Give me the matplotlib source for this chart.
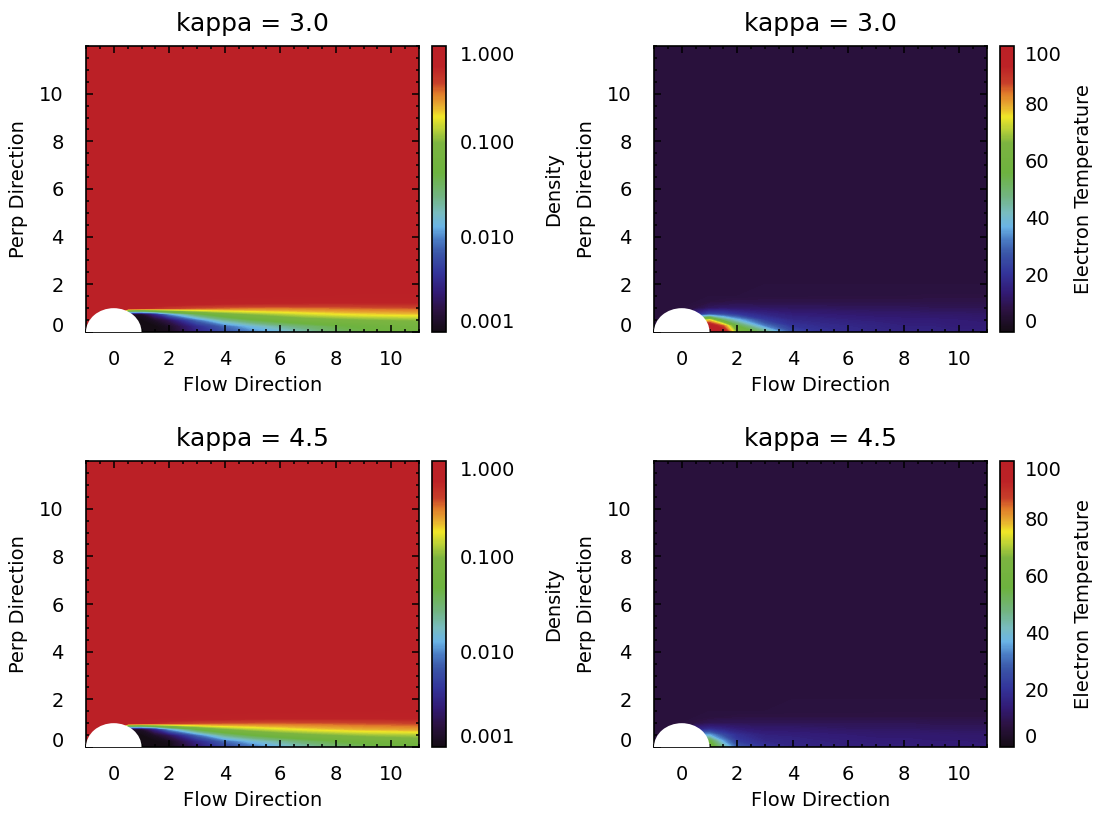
import numpy as np
import matplotlib
matplotlib.use('Agg')
import matplotlib.pyplot as plt
from matplotlib.colors import LinearSegmentedColormap, LogNorm, Normalize
from matplotlib.patches import Circle
from matplotlib.ticker import MultipleLocator, FixedLocator
import matplotlib.cm as cm

plt.rcParams['font.family'] = 'DejaVu Sans'
plt.rcParams['font.size'] = 14

# nodes of the values (wake region behind the body)
x_nodes = [0.5, 1, 1.5, 2, 3, 4, 5, 6, 7, 8, 9, 10, 11]
y_nodes = [0, 0.25, 0.5, 0.75, 1.0, 1.25, 1.5]

kappas = ['3.0', '4.5']

# log10(density); background (undisturbed flow) is 0
dens_bg = 0.0
dens_k30 = [
    [-3.0, -3.0, -3.0, -2.95, -2.55, -2.25, -2.05, -1.9, -1.7, -1.5, -1.4, -1.3, -1.25],
    [-3.0, -3.0, -3.0, -2.9, -2.45, -2.1, -1.85, -1.65, -1.5, -1.38, -1.3, -1.22, -1.18],
    [-3.0, -3.0, -2.9, -2.7, -2.1, -1.65, -1.4, -1.25, -1.15, -1.1, -1.05, -1.02, -1.0],
    [-2.9, -2.9, -2.5, -2.0, -1.45, -1.15, -1.0, -0.9, -0.82, -0.76, -0.72, -0.7, -0.68],
    [-0.1, -0.2, -0.3, -0.38, -0.45, -0.48, -0.5, -0.5, -0.49, -0.48, -0.46, -0.45, -0.44],
    [0.0, 0.0, -0.02, -0.05, -0.1, -0.14, -0.17, -0.19, -0.2, -0.21, -0.21, -0.21, -0.21],
    [0.0, 0.0, 0.0, 0.0, -0.01, -0.02, -0.03, -0.05, -0.06, -0.07, -0.08, -0.08, -0.08],
]
dens_k45 = [
    [-3.0, -3.0, -3.0, -3.0, -2.65, -2.3, -2.1, -1.9, -1.72, -1.55, -1.45, -1.35, -1.3],
    [-3.0, -3.0, -3.0, -2.95, -2.5, -2.1, -1.85, -1.65, -1.48, -1.36, -1.27, -1.2, -1.15],
    [-3.0, -3.0, -2.9, -2.7, -2.1, -1.6, -1.35, -1.2, -1.1, -1.03, -0.97, -0.94, -0.92],
    [-2.9, -2.9, -2.5, -1.95, -1.35, -1.05, -0.9, -0.8, -0.73, -0.68, -0.64, -0.62, -0.6],
    [-0.1, -0.18, -0.27, -0.35, -0.42, -0.45, -0.46, -0.46, -0.45, -0.44, -0.42, -0.41, -0.4],
    [0.0, 0.0, -0.02, -0.04, -0.08, -0.12, -0.15, -0.17, -0.18, -0.18, -0.18, -0.18, -0.18],
    [0.0, 0.0, 0.0, 0.0, -0.01, -0.02, -0.03, -0.04, -0.05, -0.06, -0.06, -0.07, -0.07],
]

# electron temperature
temp_bg = 7.0
temp_k30 = [
    [100, 100, 100, 65, 48, 25, 20, 18, 17, 16, 16, 15, 15],
    [100, 100, 85, 55, 32, 20, 18, 17, 16, 15, 15, 14, 14],
    [60, 75, 50, 38, 22, 17, 16, 15, 14.5, 14, 14, 13.5, 13],
    [18, 25, 24, 20, 16, 14, 13.5, 13, 12.5, 12.5, 12, 12, 11.5],
    [8, 11, 12, 12, 11.5, 11, 11, 10.5, 10.5, 10.5, 10, 10, 10],
    [7, 7.5, 8, 8.5, 8.5, 8.5, 8.5, 8.5, 8.5, 8.5, 8.5, 8.5, 8.5],
    [7, 7, 7, 7, 7.2, 7.3, 7.4, 7.5, 7.5, 7.5, 7.6, 7.6, 7.6],
]
temp_k45 = [
    [62, 62, 45, 28, 20, 17, 16, 15, 15, 15, 14, 14, 14],
    [55, 55, 35, 22, 17, 16, 15, 14.5, 14, 14, 13.5, 13.5, 13],
    [36, 36, 25, 19, 15, 14.5, 14, 13.5, 13, 13, 13, 12.5, 12.5],
    [16, 18, 16, 14, 12.5, 12.5, 12, 11.5, 11.5, 11.5, 11, 11, 11],
    [8, 9.5, 10, 10, 10, 10, 10, 10, 10, 10, 9.5, 9.5, 9.5],
    [7, 7.2, 7.5, 7.8, 8, 8, 8, 8, 8, 8, 8, 8, 8],
    [7, 7, 7, 7, 7, 7.1, 7.2, 7.2, 7.3, 7.3, 7.3, 7.3, 7.3],
]

dens_ticks = [0.001, 0.01, 0.1, 1.0]
temp_ticks = [0, 20, 40, 60, 80, 100]

# IDL-like rainbow
cmap = LinearSegmentedColormap.from_list('idl_rainbow', [
    (0.0, '#140c14'), (0.076, '#2c1242'), (0.135, '#321a74'), (0.205, '#33349a'),
    (0.275, '#3a56a8'), (0.322, '#4a7cc4'), (0.368, '#6ab4e6'), (0.415, '#78bcc0'),
    (0.474, '#72b482'), (0.556, '#6db33f'), (0.661, '#7cb440'), (0.708, '#b8d038'),
    (0.754, '#f0e628'), (0.789, '#e8b030'), (0.836, '#e07a2a'), (0.871, '#c8402a'),
    (0.93, '#bc2226'), (1.0, '#bb2026')])


def full_grid(vals, bg):
    xs = [-1, 0] + x_nodes
    ys = y_nodes + [2.0, 12.0]
    z = np.full((len(ys), len(xs)), bg, dtype=float)
    z[:len(y_nodes), 2:] = np.array(vals, dtype=float)
    return xs, ys, z


def style_axes(ax):
    ax.set_xlim(-1, 11)
    ax.set_ylim(0, 12)
    ax.xaxis.set_major_locator(FixedLocator([0, 2, 4, 6, 8, 10]))
    ax.yaxis.set_major_locator(FixedLocator([0, 2, 4, 6, 8, 10]))
    ax.xaxis.set_minor_locator(MultipleLocator(0.5))
    ax.yaxis.set_minor_locator(MultipleLocator(0.5))
    ax.tick_params(which='both', direction='in', top=True, right=True, width=1.1)
    ax.tick_params(which='major', length=5)
    ax.tick_params(which='minor', length=2.5)
    ax.tick_params(axis='y', pad=16)
    ax.tick_params(axis='x', pad=13)
    for s in ax.spines.values():
        s.set_linewidth(1.2)
    ax.set_xlabel('Flow Direction')
    ax.set_ylabel('Perp Direction')
    ax.xaxis.set_label_coords(0.5, -0.155)
    ax.yaxis.set_label_coords(-0.175, 0.5)
    ax.get_yticklabels()[0].set_va('baseline')
    ax.add_patch(Circle((0, 0), 1.0, facecolor='white', edgecolor='none', zorder=3))


W, H = 1096, 814
fig = plt.figure(figsize=(W / 100, H / 100), dpi=100)


def px_axes(left, top, right, bottom):
    return fig.add_axes([left / W, 1 - bottom / H, (right - left) / W, (bottom - top) / H])


rows = [(46, 332), (461, 747)]
dens_sets = [dens_k30, dens_k45]
temp_sets = [temp_k30, temp_k45]

for i, (top, bottom) in enumerate(rows):
    # density panel
    ax = px_axes(86, top, 419, bottom)
    xs, ys, z = full_grid(dens_sets[i], dens_bg)
    ax.contourf(xs, ys, z, levels=np.linspace(-3, 0, 241), cmap=cmap, extend='both')
    style_axes(ax)
    ax.set_title('kappa = ' + kappas[i], fontsize=18, pad=11)
    cax = px_axes(432, top, 446, bottom)
    cb = fig.colorbar(cm.ScalarMappable(norm=LogNorm(1e-3, 1), cmap=cmap), cax=cax)
    cb.set_ticks(dens_ticks)
    cb.set_ticklabels(['%.3f' % t for t in dens_ticks])
    cb.ax.minorticks_off()
    cb.ax.tick_params(length=0, pad=10)
    cb.outline.set_linewidth(1.2)
    cb.set_label('Density')
    cb.ax.yaxis.set_label_coords(8.0, 0.5)
    labs = cb.ax.get_yticklabels()
    labs[0].set_va('bottom')
    labs[-1].set_va('top')

    # temperature panel
    ax = px_axes(654, top, 987, bottom)
    xs, ys, z = full_grid(temp_sets[i], temp_bg)
    ax.contourf(xs, ys, z, levels=np.linspace(0, 100, 201), cmap=cmap, extend='both')
    style_axes(ax)
    ax.set_title('kappa = ' + kappas[i], fontsize=18, pad=11)
    cax = px_axes(1000, top, 1014, bottom)
    cb = fig.colorbar(cm.ScalarMappable(norm=Normalize(0, 100), cmap=cmap), cax=cax)
    cb.set_ticks(temp_ticks)
    cb.ax.tick_params(length=0, pad=8)
    cb.outline.set_linewidth(1.2)
    cb.set_label('Electron Temperature')
    cb.ax.yaxis.set_label_coords(5.3, 0.5)
    labs = cb.ax.get_yticklabels()
    labs[0].set_va('bottom')
    labs[-1].set_va('top')

fig.savefig('out.png', dpi=100)
